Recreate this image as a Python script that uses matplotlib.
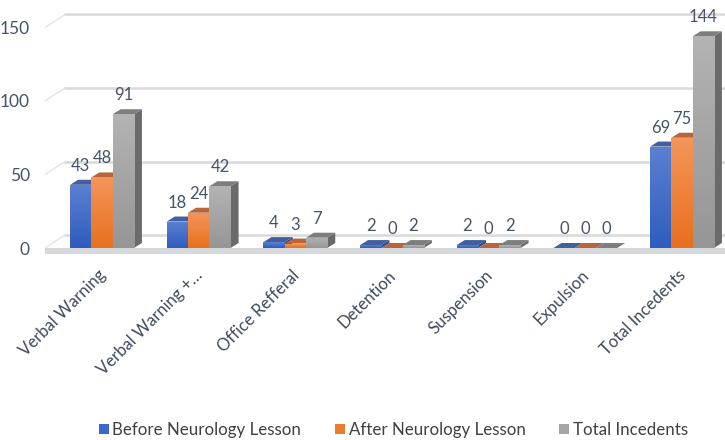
import numpy as np
import matplotlib
matplotlib.use('Agg')
import matplotlib.pyplot as plt
import matplotlib.transforms as mtransforms
from matplotlib.patches import Polygon, Patch, Rectangle
from matplotlib.colors import LinearSegmentedColormap

categories = ['Verbal Warning', 'Verbal Warning +\u2026', 'Office Refferal', 'Detention',
              'Suspension', 'Expulsion', 'Total Incedents']
before = [43, 18, 4, 2, 2, 0, 69]
after = [48, 24, 3, 0, 0, 0, 75]
total = [91, 42, 7, 2, 2, 0, 144]
series_names = ['Before Neurology Lesson', 'After Neurology Lesson', 'Total Incedents']
yticks = [0, 50, 100, 150]

# front gradient (top, bottom), top face, side face
styles = [
    ('#5B80D2', '#2F5DBE', '#42609E', '#2B4A8C'),
    ('#F4955A', '#E8701E', '#B8653A', '#B0561A'),
    ('#B3B3B3', '#969696', '#7E7E7E', '#6A6A6A'),
]
legend_colors = ['#3C68C8', '#EE7B2E', '#A5A5A5']

plt.rcParams['font.family'] = ['Lato', 'DejaVu Sans']
text_col = '#44546A'

W, H = 725, 440
fig = plt.figure(figsize=(W / 100, H / 100), dpi=100)
ax = fig.add_axes([45 / W, (H - 248) / H, 680 / W, 248 / H])
ax.set_xlim(-0.5896, 6.445)
ax.set_ylim(0, 168.7)
for s in ax.spines.values():
    s.set_visible(False)

wall_dx, wall_dy = 0.207, 8.84   # back wall offset
bar_dx, bar_dy = 0.083, 3.4      # bar depth
width = 0.22
x = np.arange(len(categories))
x0 = ax.get_xlim()[0]

# gridlines on the back wall with the little diagonal in front
for v in yticks:
    ax.plot([x0 + wall_dx, 6.445], [v + wall_dy, v + wall_dy], color='#D9D9D9', lw=1.8, zorder=1)
    ax.plot([x0, x0 + wall_dx], [v, v + wall_dy], color='#E3E3E3', lw=1.0, zorder=1)

# floor slab
ax.add_patch(Rectangle((x0, -4.3), 6.445 - x0, 4.3, facecolor='#D5D8DD', edgecolor='none',
                       clip_on=False, zorder=2))

for k, vals in enumerate([before, after, total]):
    light, dark, topc, sidec = styles[k]
    cmap = LinearSegmentedColormap.from_list('g%d' % k, [dark, light])
    bars = ax.bar(x + (k - 1) * width, vals, width, color=dark, linewidth=0, zorder=5 + 3 * k)
    for b, v in zip(bars, vals):
        bx0 = b.get_x()
        bx1 = bx0 + b.get_width()
        if v > 0:
            im = ax.imshow(np.linspace(1, 0, 64).reshape(-1, 1), cmap=cmap, aspect='auto',
                           extent=[bx0, bx1, 0, v], zorder=5.5 + 3 * k)
            im.set_clip_path(b)
        ax.add_patch(Polygon([(bx1, 0), (bx1, v), (bx1 + bar_dx, v + bar_dy), (bx1 + bar_dx, bar_dy)],
                             closed=True, facecolor=sidec, edgecolor='none', zorder=3 + 3 * k))
        ax.add_patch(Polygon([(bx0, v), (bx1, v), (bx1 + bar_dx, v + bar_dy), (bx0 + bar_dx, v + bar_dy)],
                             closed=True, facecolor=topc, edgecolor='none', zorder=4 + 3 * k))
        ax.annotate(str(v), (b.get_x() + b.get_width() / 2, v), xytext=(0, 11),
                    textcoords='offset pixels', ha='center', va='bottom',
                    fontsize=12, color=text_col, zorder=20, annotation_clip=False)

ax.set_xlim(-0.5896, 6.445)
ax.set_ylim(0, 168.7)

ax.set_yticks(yticks)
ax.set_yticklabels([str(v) for v in yticks], fontsize=12.5, color=text_col)
ax.tick_params(axis='y', length=0, pad=11)
ax.set_xticks([])

# category labels, rotated, right end just under each group
lab_tr = ax.transData + mtransforms.ScaledTranslation(-4 / 100, -19 / 100, fig.dpi_scale_trans)
for i, c in enumerate(categories):
    ax.text(x[i], 0, c, transform=lab_tr, rotation=45, ha='right', va='top',
            rotation_mode='anchor', fontsize=12, color='#3E4A5C', clip_on=False)

handles = [Patch(facecolor=c, edgecolor='none') for c in legend_colors]
fig.legend(handles, series_names, loc='center', bbox_to_anchor=(393.5 / W, 1 - 430 / H), ncol=3,
           frameon=False, fontsize=12.2, handlelength=0.59, handleheight=0.59, handletextpad=0.2,
           columnspacing=2.0, labelcolor='#404040')

fig.savefig('out.png', dpi=100)
